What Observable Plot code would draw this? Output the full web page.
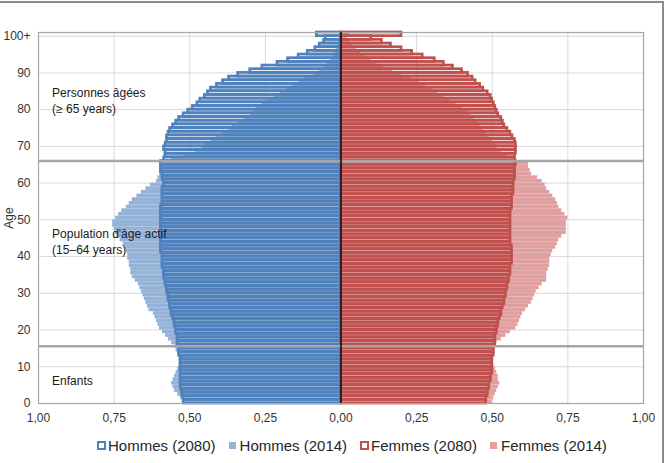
<!DOCTYPE html>
<html>
<head>
<meta charset="utf-8">
<script src="https://cdn.jsdelivr.net/npm/d3@7"></script>
<script src="https://cdn.jsdelivr.net/npm/@observablehq/plot@0.6"></script>
<style>
  html, body { margin: 0; padding: 0; background: #fff; }
  #wrap { position: relative; width: 667px; height: 463px; overflow: hidden; font-family: "Liberation Sans", Arial, sans-serif; }
  #border { position: absolute; left: -5px; top: 1px; width: 669px; height: 470px; border: 2px solid #8a8a8a; box-sizing: border-box; pointer-events: none; }
  #chart { position: absolute; left: 0; top: 0; }
  #legend { position: absolute; left: 97px; top: 437px; display: flex; align-items: center; font-size: 15px; color: #262626; white-space: nowrap; }
  .item { display: flex; align-items: center; margin-right: 13px; }
  .sw { width: 9px; height: 9px; box-sizing: border-box; margin-right: 2px; }
</style>
</head>
<body>
<div id="wrap">
  <div id="chart"></div>
  <div id="legend"></div>
  <div id="border"></div>
</div>
<script>
// Ages 0..100 (100 = "100+")
const ages = d3.range(0, 101);

// Share of total population (%)
const men2080 = [
  0.52,0.52,0.525,0.525,0.53,0.53,0.53,0.53,0.53,0.53,
  0.53,0.53,0.53,0.535,0.535,0.535,0.54,0.54,0.54,0.545,
  0.545,0.55,0.55,0.555,0.56,0.56,0.565,0.565,0.57,0.57,
  0.575,0.575,0.58,0.58,0.585,0.585,0.585,0.59,0.59,0.59,
  0.59,0.595,0.595,0.595,0.595,0.595,0.595,0.595,0.595,0.595,
  0.595,0.595,0.595,0.595,0.59,0.59,0.59,0.59,0.59,0.585,
  0.585,0.59,0.59,0.595,0.595,0.595,0.585,0.58,0.58,0.585,
  0.58,0.575,0.575,0.57,0.565,0.555,0.545,0.535,0.52,0.505,
  0.49,0.475,0.465,0.45,0.44,0.43,0.41,0.39,0.37,0.34,
  0.30,0.26,0.21,0.175,0.14,0.11,0.085,0.07,0.056,0.05,
  0.08
];
const men2014 = [
  0.52,0.53,0.54,0.55,0.555,0.56,0.555,0.55,0.545,0.54,
  0.535,0.535,0.535,0.54,0.545,0.55,0.56,0.57,0.58,0.59,
  0.60,0.605,0.61,0.615,0.62,0.635,0.64,0.645,0.65,0.655,
  0.66,0.665,0.67,0.68,0.69,0.695,0.695,0.70,0.70,0.705,
  0.705,0.71,0.715,0.72,0.73,0.74,0.745,0.75,0.755,0.755,
  0.745,0.735,0.725,0.71,0.70,0.69,0.675,0.66,0.645,0.63,
  0.61,0.605,0.60,0.60,0.595,0.59,0.56,0.52,0.48,0.46,
  0.45,0.43,0.41,0.39,0.37,0.36,0.34,0.32,0.30,0.29,
  0.28,0.26,0.24,0.22,0.20,0.18,0.16,0.14,0.12,0.09,
  0.07,0.055,0.045,0.035,0.025,0.02,0.015,0.01,0.008,0.006,
  0.005
];
const women2080 = [
  0.48,0.48,0.485,0.485,0.49,0.49,0.495,0.495,0.50,0.50,
  0.50,0.50,0.50,0.505,0.505,0.505,0.51,0.51,0.51,0.515,
  0.515,0.52,0.52,0.525,0.53,0.53,0.535,0.54,0.54,0.545,
  0.545,0.55,0.55,0.555,0.555,0.56,0.56,0.56,0.565,0.565,
  0.565,0.565,0.565,0.56,0.56,0.56,0.56,0.56,0.56,0.56,
  0.56,0.56,0.56,0.565,0.565,0.565,0.565,0.57,0.57,0.57,
  0.57,0.575,0.575,0.575,0.575,0.578,0.575,0.575,0.578,0.578,
  0.578,0.575,0.567,0.56,0.55,0.54,0.535,0.53,0.52,0.515,
  0.51,0.505,0.50,0.495,0.485,0.47,0.46,0.445,0.435,0.42,
  0.40,0.37,0.34,0.31,0.27,0.235,0.20,0.165,0.135,0.10,
  0.20
];
const women2014 = [
  0.50,0.505,0.51,0.515,0.52,0.525,0.52,0.52,0.515,0.51,
  0.505,0.50,0.50,0.505,0.505,0.51,0.515,0.53,0.545,0.56,
  0.578,0.585,0.59,0.595,0.60,0.61,0.62,0.63,0.635,0.64,
  0.645,0.655,0.665,0.68,0.68,0.68,0.685,0.69,0.69,0.69,
  0.695,0.70,0.71,0.715,0.72,0.73,0.745,0.745,0.745,0.745,
  0.75,0.74,0.73,0.72,0.715,0.71,0.70,0.69,0.68,0.675,
  0.665,0.65,0.63,0.625,0.62,0.62,0.575,0.55,0.53,0.515,
  0.51,0.50,0.49,0.48,0.47,0.46,0.45,0.44,0.43,0.42,
  0.40,0.38,0.36,0.34,0.32,0.30,0.28,0.26,0.23,0.20,
  0.17,0.14,0.12,0.10,0.08,0.065,0.05,0.04,0.03,0.02,
  0.03
];

const xTicks = [-1, -0.75, -0.5, -0.25, 0, 0.25, 0.5, 0.75, 1];
const yTicks = [0, 10, 20, 30, 40, 50, 60, 70, 80, 90, 100];
const yTickLabels = ["0","10","20","30","40","50","60","70","80","90","100+"];
const groupBounds = [66, 15.6];
const annotations = [
  {text: "Personnes âgées\n(≥ 65 years)", age: 82.6},
  {text: "Population d'âge actif\n(15–64 years)", age: 44.2},
  {text: "Enfants", age: 6.3}
];
const legendItems = [
  {label: "Hommes (2080)", color: "#4f81bd", hollow: true},
  {label: "Hommes (2014)", color: "#95b3d7", hollow: false},
  {label: "Femmes (2080)", color: "#c0504d", hollow: true},
  {label: "Femmes (2014)", color: "#e0a0a0", hollow: false}
];

const rows = ages.map((a, i) => ({age: a, m80: men2080[i], m14: men2014[i], f80: women2080[i], f14: women2014[i]}));
const fmtX = d => Math.abs(d).toFixed(2).replace(".", ",");
const fmtY = d => yTickLabels[yTicks.indexOf(d)];

const chart = Plot.plot({
  width: 667,
  height: 430,
  marginLeft: 38,
  marginRight: 24,
  marginTop: 32,
  marginBottom: 27,
  style: {fontFamily: "'Liberation Sans', Arial, sans-serif", fontSize: "12px", color: "#333", background: "transparent"},
  x: {domain: [-1, 1]},
  y: {domain: [0, 101]},
  marks: [
    Plot.gridX(xTicks, {stroke: "#d9d9d9", strokeOpacity: 1}),
    Plot.gridY(yTicks, {stroke: "#d9d9d9", strokeOpacity: 1}),
    Plot.rectX(rows, {x1: 0, x2: d => -d.m14, y1: "age", y2: d => d.age + 1, fill: legendItems[1].color}),
    Plot.rectX(rows, {x1: 0, x2: d => d.f14, y1: "age", y2: d => d.age + 1, fill: legendItems[3].color}),
    Plot.rectX(rows, {x1: 0, x2: d => -d.m80, y1: "age", y2: d => d.age + 1, fill: "none", stroke: legendItems[0].color, strokeWidth: 2.7}),
    Plot.rectX(rows, {x1: 0, x2: d => d.f80, y1: "age", y2: d => d.age + 1, fill: "none", stroke: legendItems[2].color, strokeWidth: 2.7}),
    Plot.frame({stroke: "#a6a6a6", strokeWidth: 1.2}),
    Plot.ruleY(groupBounds, {stroke: "#a6a6a6", strokeWidth: 2.6}),
    Plot.ruleX([0], {y1: 0, y2: 101, stroke: "#111", strokeWidth: 1.6}),
    Plot.axisX(xTicks, {tickSize: 0, tickPadding: 10, tickFormat: fmtX, label: null, fontSize: 12}),
    Plot.axisY(yTicks, {tickSize: 0, tickPadding: 8, tickFormat: fmtY, label: "Age", labelAnchor: "center", labelArrow: "none", labelOffset: 34, fontSize: 12}),
    Plot.text(annotations, {x: -0.955, y: "age", text: "text", textAnchor: "start", lineHeight: 1.33, fontSize: 12, fill: "#1a1a1a"})
  ]
});
document.getElementById("chart").appendChild(chart);

const legend = document.getElementById("legend");
legendItems.forEach(it => {
  const item = document.createElement("div");
  item.className = "item";
  const sw = document.createElement("div");
  sw.className = "sw";
  if (it.hollow) { sw.style.border = "2.5px solid " + it.color; sw.style.background = "#fff"; }
  else { sw.style.background = it.color; sw.style.width = "7px"; sw.style.height = "7px"; sw.style.marginRight = "4px"; }
  const t = document.createElement("span");
  t.textContent = it.label;
  item.appendChild(sw);
  item.appendChild(t);
  legend.appendChild(item);
});
</script>
</body>
</html>
